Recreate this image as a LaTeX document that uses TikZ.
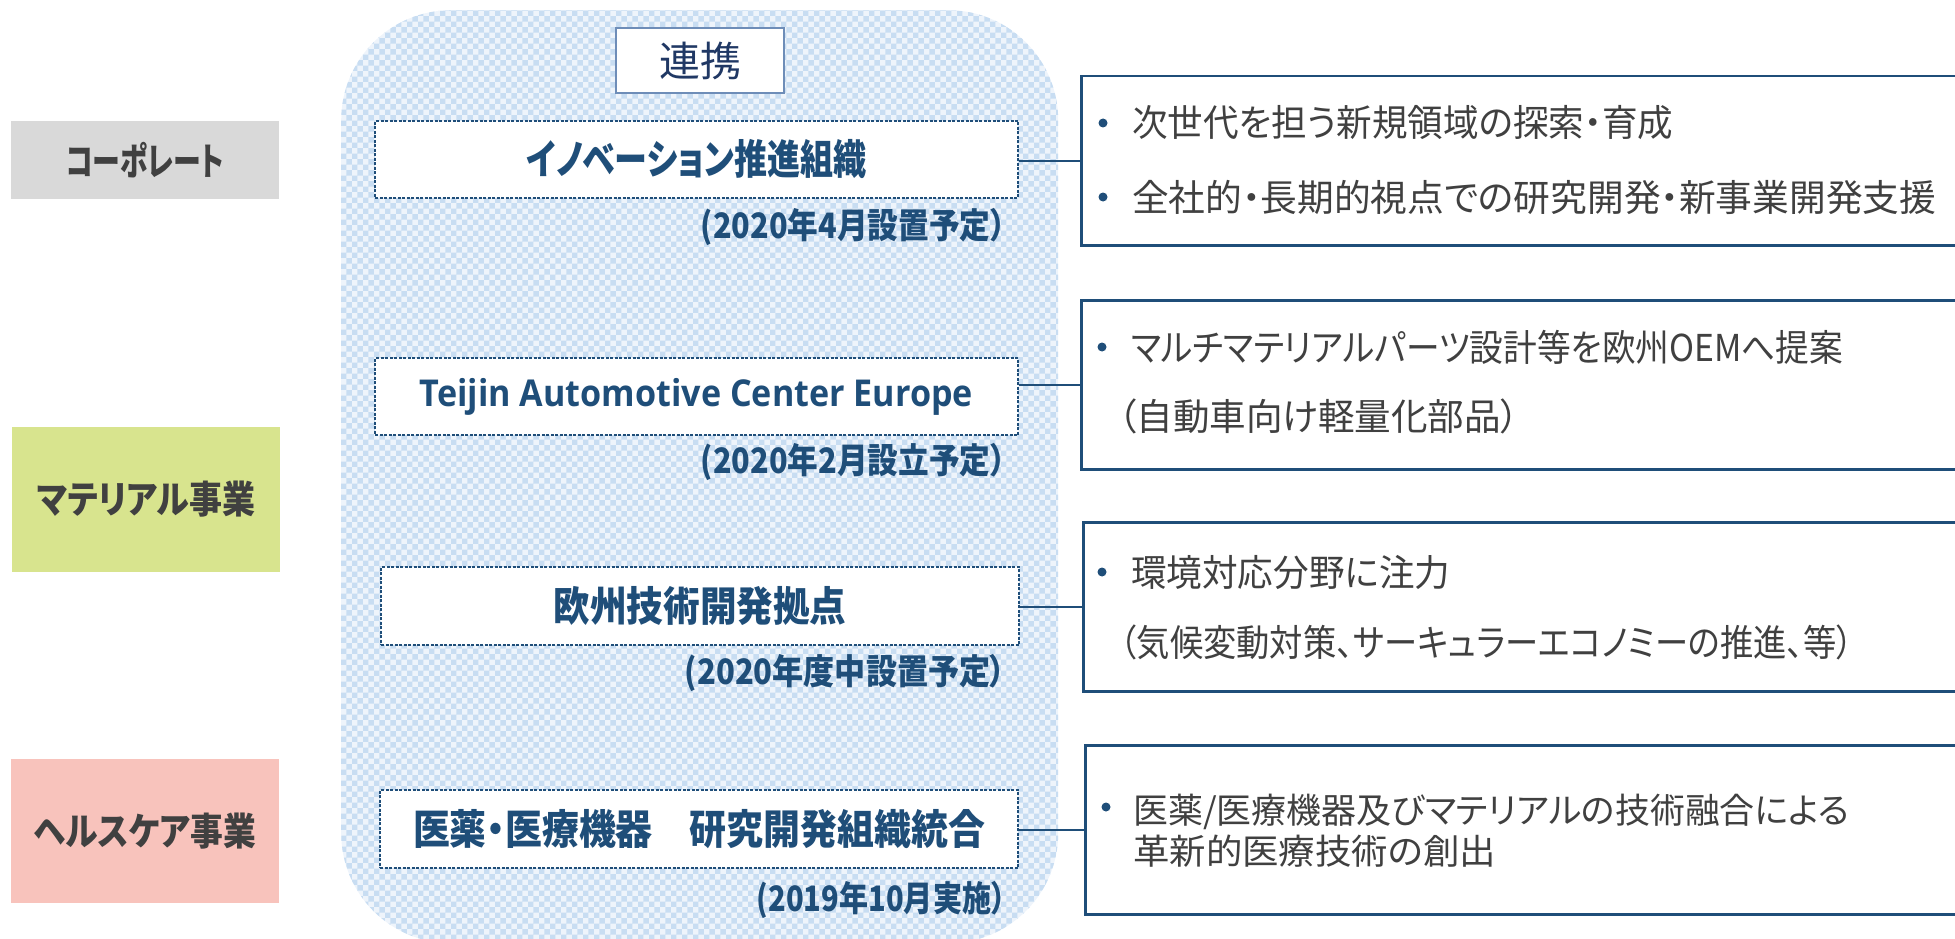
\documentclass[tikz,border=0pt]{standalone}
\usepackage{fontspec}
\usepackage{graphicx}
\usetikzlibrary{patterns}
\newfontfamily\jp{Noto Sans CJK JP}[RawFeature=+palt]
\newfontfamily\lat{Open Sans}
\newcommand{\fitw}[2]{\resizebox{#1}{\height}{#2}}
\definecolor{navy}{RGB}{31,78,121}
\definecolor{txtgray}{RGB}{64,64,64}
\definecolor{corpgray}{RGB}{217,217,217}
\definecolor{matgreen}{RGB}{216,228,142}
\definecolor{hcpink}{RGB}{248,195,188}
\definecolor{bglight}{RGB}{238,244,251}
\definecolor{bgdot}{RGB}{200,221,242}
\definecolor{linkblue}{RGB}{110,141,184}
\definecolor{linktext}{RGB}{32,56,100}
\tikzset{
  grpshape/.style={inner sep=0pt, minimum width=717pt, minimum height=933pt, rounded corners=110pt, anchor=north west,
    preaction={fill=bglight}, pattern=checkerboard, pattern color=bgdot},
  catbox/.style={inner sep=0pt, minimum width=268pt, text=txtgray},
  midbox/.style={draw=navy, line width=1.4pt, dash pattern=on 3pt off 1.5pt, fill=white, inner sep=0pt, text=navy},
  datelbl/.style={inner sep=0pt, anchor=east, text=navy, font=\jp\bfseries\fontsize{35}{38}\selectfont},
  rbox/.style={draw=navy, line width=2.5pt, fill=white, inner sep=0pt, anchor=north west, minimum width=900pt, minimum height=169pt},
  rtext/.style={inner sep=0pt, anchor=west, text=txtgray, font=\jp\fontsize{37}{40}\selectfont},
  rtextsm/.style={inner sep=0pt, anchor=west, text=txtgray, font=\jp\fontsize{35}{38}\selectfont},
  bulletdot/.style={circle, fill=navy, minimum size=9pt, inner sep=0pt},
  conn/.style={draw=navy, line width=2pt},
  linkbox/.style={draw=linkblue, line width=2pt, fill=white, inner sep=0pt, minimum width=168pt, minimum height=65pt, text=linktext}
}
\begin{document}
\begin{tikzpicture}[x=1pt,y=-1pt]
\useasboundingbox (0,0) rectangle (1955,939);
\clip (0,0) rectangle (1955,939);
% group background
\node[grpshape] (grp) at (341,10) {};
% link box
\node[linkbox] (link) at (700,60.5) {\fitw{82pt}{\jp\fontsize{41}{44}\selectfont 連携}};
% left category boxes
\node[catbox, fill=corpgray, minimum height=78pt] (corp) at (145,160)
  {\fitw{158pt}{\jp\bfseries\fontsize{38}{42}\selectfont コーポレート}};
\node[catbox, fill=matgreen, minimum height=145pt] (mat) at (146,499.5)
  {\fitw{218pt}{\jp\bfseries\fontsize{38}{42}\selectfont マテリアル事業}};
\node[catbox, fill=hcpink, minimum height=144pt] (hc) at (145,831)
  {\fitw{222pt}{\jp\bfseries\fontsize{38}{42}\selectfont ヘルスケア事業}};
% middle boxes
\node[midbox, minimum width=643pt, minimum height=77pt] (inno) at (696.5,159.5)
  {\fitw{340pt}{\jp\bfseries\fontsize{41}{44}\selectfont イノベーション推進組織}};
\node[midbox, minimum width=643pt, minimum height=77pt] (tace) at (696.5,396.5)
  {\fitw{553pt}{\lat\bfseries\fontsize{37}{40}\selectfont Teijin Automotive Center Europe}};
\node[midbox, minimum width=638pt, minimum height=78pt] (euro) at (700,606)
  {\fitw{293pt}{\jp\bfseries\fontsize{41}{44}\selectfont 欧州技術開発拠点}};
\node[midbox, minimum width=638pt, minimum height=78pt] (med) at (699,829)
  {\fitw{572pt}{\jp\bfseries\fontsize{41}{44}\selectfont 医薬・医療機器　研究開発組織統合}};
% dates
\node[datelbl] (d1) at (1006,227) {\fitw{305pt}{(2020年4月設置予定）}};
\node[datelbl] (d2) at (1006,462) {\fitw{305pt}{(2020年2月設立予定）}};
\node[datelbl] (d3) at (1006,673) {\fitw{321pt}{(2020年度中設置予定）}};
\node[datelbl] (d4) at (1006,900) {\fitw{249pt}{(2019年10月実施）}};
% right boxes
\node[rbox] (r1) at (1080,75) {};
\node[rbox] (r2) at (1080,299) {};
\node[rbox] (r3) at (1082,521) {};
\node[rbox] (r4) at (1084,744) {};
% connectors
\draw[conn] (inno.east |- r1.west) -- (r1.west);
\draw[conn] (tace.east |- r2.west) -- (r2.west);
\draw[conn] (euro.east |- r3.west) -- (r3.west);
\draw[conn] (med.east |- r4.west) -- (r4.west);
% right texts
\node[bulletdot] (b1a) at (1103,123) {};
\node[rtext] (t1a) at (1132,123) {\fitw{541pt}{次世代を担う新規領域の探索・育成}};
\node[bulletdot] (b1b) at (1103,197) {};
\node[rtext] (t1b) at (1132,197) {\fitw{804pt}{全社的・長期的視点での研究開発・新事業開発支援}};
\node[bulletdot] (b2a) at (1102,347) {};
\node[rtext] (t2a) at (1131,347) {\fitw{712pt}{マルチマテリアルパーツ設計等を欧州OEMへ提案}};
\node[rtext] (t2b) at (1118,416) {\fitw{401pt}{（自動車向け軽量化部品）}};
\node[bulletdot] (b3a) at (1102,572) {};
\node[rtext] (t3a) at (1131,572) {\fitw{319pt}{環境対応分野に注力}};
\node[rtext] (t3b) at (1120,642) {\fitw{733pt}{（気候変動対策、サーキュラーエコノミーの推進、等）}};
\node[bulletdot] (b4a) at (1106,807) {};
\node[rtextsm] (t4a) at (1133,812) {\fitw{716pt}{医薬/医療機器及びマテリアルの技術融合による}};
\node[rtextsm] (t4b) at (1133,851) {\fitw{363pt}{革新的医療技術の創出}};
\end{tikzpicture}
\end{document}
